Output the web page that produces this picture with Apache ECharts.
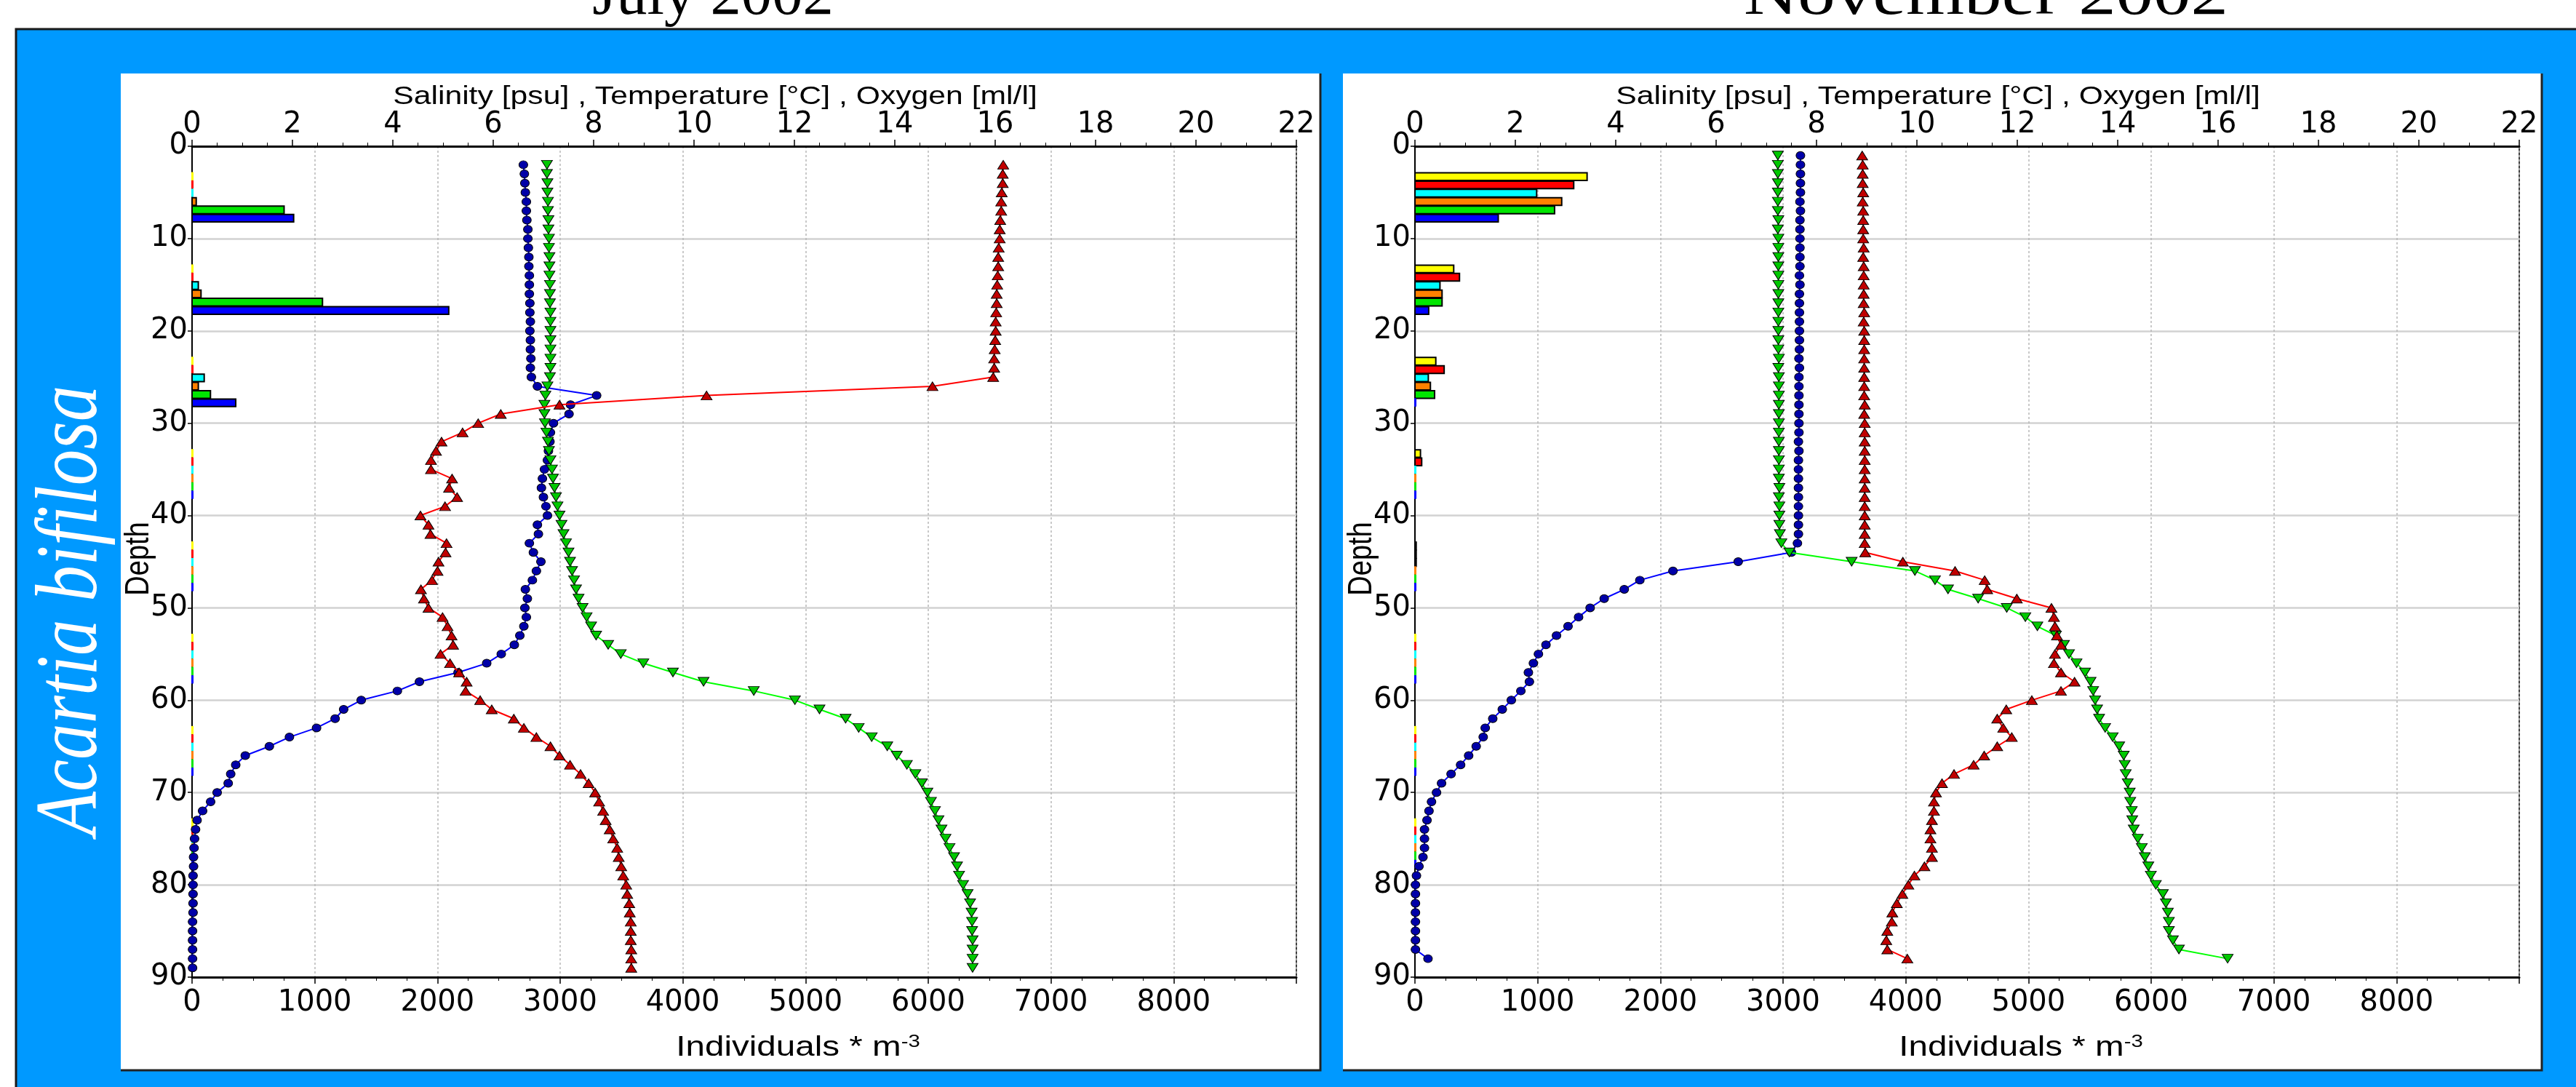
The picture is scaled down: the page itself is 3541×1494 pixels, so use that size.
<!DOCTYPE html>
<html><head><meta charset="utf-8">
<script src="https://cdn.jsdelivr.net/npm/echarts@6/dist/echarts.min.js"></script>
<style>html,body{margin:0;padding:0;background:#fff;}#c{width:3541px;height:1494px;}</style>
</head><body><div id="c"></div>
<script>
// ---------------- DATA ----------------
const panelTitles = ['July 2002', 'November 2002'];
const speciesName = 'Acartia bifilosa';
const topAxisTitle = 'Salinity [psu] , Temperature [°C] , Oxygen [ml/l]';
const depthTicks = [0,10,20,30,40,50,60,70,80,90];
const topTicks = [0,2,4,6,8,10,12,14,16,18,20,22];
const bottomTicks = [0,1000,2000,3000,4000,5000,6000,7000,8000];

const julyDepth = [2,3,4,5,6,7,8,9,10,11,12,13,14,15,16,17,18,19,20,21,22,23,24,25,26,27,28,29,30,31,32,33,34,35,36,37,38,39,40,41,42,43,44,45,46,47,48,49,50,51,52,53,54,55,56,57,58,59,60,61,62,63,64,65,66,67,68,69,70,71,72,73,74,75,76,77,78,79,80,81,82,83,84,85,86,87,88,89];
const julyTemperature = [16.16,16.15,16.15,16.13,16.12,16.12,16.10,16.09,16.09,16.07,16.06,16.06,16.05,16.04,16.03,16.03,16.02,16.01,16.01,16.00,15.99,15.98,15.98,15.96,
  14.75,10.25,7.32,6.15,5.70,5.39,4.97,4.86,4.76,4.76,5.18,5.12,5.28,5.04,4.55,4.71,4.75,5.07,5.05,4.91,4.89,4.78,4.56,4.62,4.71,4.99,5.09,5.17,5.20,4.95,5.14,5.32,5.47,5.45,5.74,5.97,6.41,6.61,6.86,7.14,7.32,7.53,7.74,7.90,8.03,8.11,8.19,8.24,8.32,8.39,8.47,8.50,8.55,8.59,8.65,8.67,8.71,8.72,8.74,8.74,8.74,8.75,8.75,8.75];
const julyOxygen = [6.60,6.62,6.63,6.64,6.66,6.66,6.67,6.69,6.69,6.70,6.71,6.71,6.72,6.72,6.72,6.73,6.73,6.74,6.73,6.74,6.74,6.75,6.74,6.76,
  6.88,8.06,7.54,7.51,7.20,7.14,7.13,7.10,7.08,7.02,6.98,6.96,7.00,7.05,7.08,6.88,6.90,6.72,6.80,6.95,6.86,6.78,6.64,6.68,6.63,6.66,6.61,6.53,6.42,6.16,5.87,5.30,4.53,4.09,3.37,3.02,2.85,2.48,1.94,1.54,1.06,0.87,0.77,0.72,0.50,0.37,0.21,0.10,0.07,0.05,0.04,0.03,0.03,0.02,0.02,0.02,0.02,0.02,0.01,0.01,0.01,0.01,0.01,0.01];
const julySalinity = [7.07,7.07,7.08,7.08,7.09,7.09,7.10,7.10,7.11,7.11,7.12,7.12,7.12,7.13,7.13,7.13,7.14,7.14,7.14,7.14,7.14,7.14,7.14,7.13,
  7.08,7.04,7.02,7.02,7.03,7.06,7.09,7.11,7.14,7.17,7.19,7.22,7.25,7.28,7.32,7.36,7.40,7.45,7.50,7.53,7.57,7.61,7.65,7.70,7.78,7.86,7.95,8.05,8.29,8.54,8.99,9.58,10.19,11.19,12.01,12.50,13.02,13.28,13.54,13.85,14.04,14.24,14.41,14.54,14.65,14.72,14.80,14.87,14.93,15.01,15.09,15.18,15.24,15.28,15.36,15.45,15.50,15.53,15.54,15.54,15.55,15.55,15.55,15.55];

const novDepth = [1,2,3,4,5,6,7,8,9,10,11,12,13,14,15,16,17,18,19,20,21,22,23,24,25,26,27,28,29,30,31,32,33,34,35,36,37,38,39,40,41,42,43,44,45,46,47,48,49,50,51,52,53,54,55,56,57,58,59,60,61,62,63,64,65,66,67,68,69,70,71,72,73,74,75,76,77,78,79,80,81,82,83,84,85,86,87,88];
const novTemperature = [8.91,8.92,8.92,8.92,8.93,8.92,8.93,8.93,8.93,8.93,
  8.94,8.93,8.94,8.94,8.94,8.94,8.94,8.95,8.94,8.95,
  8.95,8.95,8.95,8.95,8.95,8.95,8.95,8.96,8.95,8.96,
  8.96,8.96,8.96,8.96,8.96,8.96,8.96,8.96,8.96,8.96,
  8.96,8.96,8.96,8.97,
  9.72,10.76,11.35,11.40,11.99,12.68,12.73,12.75,12.79,12.87,12.75,12.73,12.87,13.14,12.87,12.29,11.78,11.60,11.72,11.89,11.60,11.34,11.13,10.74,10.50,10.38,10.34,10.34,10.30,10.27,10.27,10.30,10.30,10.15,9.95,9.83,9.71,9.60,9.51,9.50,9.41,9.39,9.41,9.81];
const novOxygen = [7.68,7.68,7.68,7.68,7.68,7.67,7.68,7.67,7.67,7.67,
  7.67,7.67,7.67,7.66,7.67,7.66,7.66,7.66,7.66,7.66,
  7.66,7.66,7.65,7.66,7.65,7.65,7.65,7.65,7.65,7.65,
  7.65,7.64,7.65,7.64,7.64,7.64,7.64,7.64,7.64,7.64,
  7.64,7.64,7.62,
  7.50,6.44,5.14,4.48,4.17,3.77,3.49,3.26,3.05,2.82,2.61,2.46,2.36,2.26,2.28,2.11,1.92,1.74,1.55,1.40,1.36,1.22,1.07,0.91,0.72,0.53,0.43,0.33,0.28,0.24,0.19,0.19,0.19,0.16,0.08,0.03,0.01,0.01,0.01,0.01,0.01,0.01,0.01,0.01,0.26];
const novSalinity = [7.23,7.23,7.23,7.23,7.23,7.23,7.23,7.24,7.23,7.24,
  7.24,7.24,7.24,7.24,7.24,7.24,7.24,7.24,7.24,7.24,
  7.24,7.24,7.25,7.24,7.25,7.25,7.25,7.25,7.25,7.25,
  7.25,7.25,7.25,7.25,7.25,7.25,7.26,7.25,7.26,7.26,
  7.26,7.27,7.30,
  7.46,8.70,9.96,10.36,10.62,11.22,11.79,12.16,12.40,12.77,12.93,13.03,13.18,13.35,13.46,13.51,13.55,13.59,13.63,13.75,13.90,14.03,14.12,14.14,14.16,14.20,14.24,14.25,14.28,14.29,14.32,14.40,14.48,14.54,14.61,14.66,14.76,14.90,14.96,15.00,15.02,15.02,15.10,15.22,16.19];

// Abundance bars (Individuals * m-3), one value per sampled layer, per stage colour
const layerCentres = [5.5,15.5,25.5,35.5,45.5,55.5,65.5,75.5];
const stageColours = ['#FFFF00','#FF0000','#00FFFF','#FF8000','#00E600','#0000FF'];
const julyStageYellow = [0,0,0,0,0,0,0,0];
const julyStageRed    = [0,0,0,0,0,0,0,0];
const julyStageCyan   = [0,51,99,0,0,0,0,0];
const julyStageOrange = [34,73,51,0,0,0,0,0];
const julyStageGreen  = [750,1063,150,0,0,0,0,0];
const julyStageBlue   = [828,2092,356,0,0,0,0,0];
const novStageYellow = [1403,316,170,45,10,0,0,0];
const novStageRed    = [1294,363,238,55,10,0,0,0];
const novStageCyan   = [992,204,109,0,10,0,0,0];
const novStageOrange = [1196,221,126,0,0,0,0,0];
const novStageGreen  = [1138,221,160,0,0,0,0,0];
const novStageBlue   = [679,112,0,0,0,0,0,0];

// ---------------- CHECKS ----------------
[[julyDepth,julyTemperature],[julyDepth,julyOxygen],[julyDepth,julySalinity],[novDepth,novTemperature],[novDepth,novOxygen],[novDepth,novSalinity]].forEach((p,i)=>{
  if (p[0].length !== p[1].length) throw new Error('length mismatch '+i+': '+p[0].length+' vs '+p[1].length);
});

// ---------------- LAYOUT ----------------
const SANS = 'DejaVu Sans';
const plotLeft = [264, 1945];
const plotTop = 201, plotW = 1518, plotH = 1142;
const STRETCH = 1.22;

function pairs(depth, vals){ return depth.map((d,i)=>[vals[i], d]); }
function barData(stages){
  const out = [];
  stages.forEach((arr, s) => arr.forEach((v, g) => out.push([v, layerCentres[g], s])));
  return out;
}
function renderBar(params, api){
  const v = api.value(0), c = api.value(1), s = api.value(2);
  const top = c - 2.7 + s*0.9, bot = top + 0.9;
  const p0 = api.coord([0, top]), p1 = api.coord([v, bot]);
  const col = stageColours[s];
  if (v <= 0) {
    return {type:'rect', shape:{x:p0[0]-1, y:p0[1], width:3, height:p1[1]-p0[1]}, style:{fill:col}};
  }
  return {type:'rect', shape:{x:p0[0], y:p0[1]+1, width:p1[0]-p0[0], height:p1[1]-p0[1]-1},
          style:{fill:col, stroke:'#000', lineWidth:2}};
}

const grids = [], xAxes = [], yAxes = [], series = [], graphics = [];
const labelStyle = {fontFamily:SANS, fontSize:40, color:'#000'};
const plainNumber = v => String(v);

const panels = [
  {depth: julyDepth, T: julyTemperature, O: julyOxygen, S: julySalinity,
   bars: [julyStageYellow,julyStageRed,julyStageCyan,julyStageOrange,julyStageGreen,julyStageBlue]},
  {depth: novDepth, T: novTemperature, O: novOxygen, S: novSalinity,
   bars: [novStageYellow,novStageRed,novStageCyan,novStageOrange,novStageGreen,novStageBlue]}
];

panels.forEach((p, i) => {
  grids.push({left: plotLeft[i], top: plotTop, width: plotW, height: plotH, show: true,
    backgroundColor: '#fff', borderColor: '#000', borderWidth: 1.5});
  // top axis: salinity/temperature/oxygen
  xAxes.push({type:'value', gridIndex:i, position:'top', min:topTicks[0], max:topTicks[topTicks.length-1], interval:2,
    axisLine:{show:true, onZero:false, lineStyle:{color:'#000', width:3}},
    axisTick:{show:true, length:9, lineStyle:{color:'#000', width:1.5}},
    minorTick:{show:true, splitNumber:4, length:5, lineStyle:{color:'#000', width:1}},
    axisLabel:Object.assign({margin:9, formatter:plainNumber}, labelStyle),
    splitLine:{show:false}});
  // bottom axis: individuals
  xAxes.push({type:'value', gridIndex:i, position:'bottom', min:0, max:9000, interval:1000,
    axisLine:{show:true, onZero:false, lineStyle:{color:'#000', width:3}},
    axisTick:{show:true, length:9, lineStyle:{color:'#000', width:1.5}},
    minorTick:{show:true, splitNumber:4, length:5, lineStyle:{color:'#000', width:1}},
    axisLabel:Object.assign({margin:16, showMaxLabel:false, formatter:plainNumber}, labelStyle),
    splitLine:{show:true, lineStyle:{color:'#b8b8b8', width:1.5, type:[3,3]}}});
  yAxes.push({type:'value', gridIndex:i, inverse:true, min:depthTicks[0], max:depthTicks[depthTicks.length-1], interval:10,
    axisLine:{show:true, onZero:false, lineStyle:{color:'#000', width:2}},
    axisTick:{show:true, length:6, lineStyle:{color:'#000', width:1.5}},
    axisLabel:Object.assign({margin:6, formatter:plainNumber}, labelStyle),
    splitLine:{show:true, lineStyle:{color:'#d2d2d2', width:2.5}}});

  const xt = i*2, xb = i*2+1;
  series.push({type:'custom', xAxisIndex:xb, yAxisIndex:i, renderItem: renderBar,
    encode:{x:0, y:1}, data: barData(p.bars), z:3, silent:true});
  series.push({type:'line', name:'Oxygen', xAxisIndex:xt, yAxisIndex:i, data: pairs(p.depth, p.O),
    symbol:'circle', symbolSize:[12,11], lineStyle:{color:'#0000FF', width:2},
    itemStyle:{color:'#0000A8', borderColor:'#000', borderWidth:1}, z:4});
  series.push({type:'line', name:'Salinity', xAxisIndex:xt, yAxisIndex:i, data: pairs(p.depth, p.S),
    symbol:'triangle', symbolRotate:180, symbolSize:[15,12], lineStyle:{color:'#00FF00', width:2},
    itemStyle:{color:'#00C800', borderColor:'#000', borderWidth:1}, z:5});
  series.push({type:'line', name:'Temperature', xAxisIndex:xt, yAxisIndex:i, data: pairs(p.depth, p.T),
    symbol:'triangle', symbolSize:[15,12], lineStyle:{color:'#FF0000', width:2},
    itemStyle:{color:'#C00000', borderColor:'#000', borderWidth:1}, z:6});
});

// ---------------- DECORATION ----------------
graphics.push({type:'rect', z:-100, shape:{x:22, y:40, width:3600, height:1500},
  style:{fill:'#0099FF', stroke:'#1a1a1a', lineWidth:3}});
const panelBoxes = [[166,101,1649,1370],[1846,101,1648,1370]];
panelBoxes.forEach(b => {
  graphics.push({type:'rect', z:-90, shape:{x:b[0], y:b[1], width:b[2], height:b[3]}, style:{fill:'#fff'}});
  graphics.push({type:'polyline', z:-89, shape:{points:[[b[0], b[1]+b[3]], [b[0]+b[2], b[1]+b[3]], [b[0]+b[2], b[1]]]},
    style:{stroke:'#222', lineWidth:3, fill:null}});
});
const titleCx = [980, 2730];
const titleStretch = [1.02, 1.24];
panelTitles.forEach((t, i) => {
  graphics.push({type:'text', z:100, x:titleCx[i], y:-3, scaleX:titleStretch[i],
    style:{text:t, font:'83px "Liberation Serif"', fill:'#000', align:'center', verticalAlign:'middle'}});
});
graphics.push({type:'text', z:100, x:100, y:839, rotation:Math.PI/2, scaleY:STRETCH,
  style:{text:speciesName, font:'italic 99px "Liberation Serif"', fill:'#fff', align:'center', verticalAlign:'middle'}});
plotLeft.forEach((L, i) => {
  graphics.push({type:'text', z:100, x:L+719, y:133, scaleX:STRETCH,
    style:{text:topAxisTitle, font:'35px "Liberation Sans"', fill:'#000', align:'center', verticalAlign:'middle'}});
  graphics.push({type:'text', z:100, x:L+833, y:1440, scaleX:STRETCH,
    style:{text:'Individuals * m{sup|-3}', font:'39px "Liberation Sans"', fill:'#000', align:'center', verticalAlign:'middle',
      rich:{sup:{font:'24px "Liberation Sans"', fill:'#000', verticalAlign:'top', padding:[0,0,16,0]}}}});
  graphics.push({type:'text', z:100, x:L-73, y:768, rotation:Math.PI/2, scaleY:STRETCH,
    style:{text:'Depth', font:'38px "Liberation Sans"', fill:'#000', align:'center', verticalAlign:'middle'}});
});

const chart = echarts.init(document.getElementById('c'), null, {renderer:'canvas'});
chart.setOption({
  animation:false,
  backgroundColor:'#fff',
  grid: grids, xAxis: xAxes, yAxis: yAxes, series: series, graphic: graphics
});
</script></body></html>
